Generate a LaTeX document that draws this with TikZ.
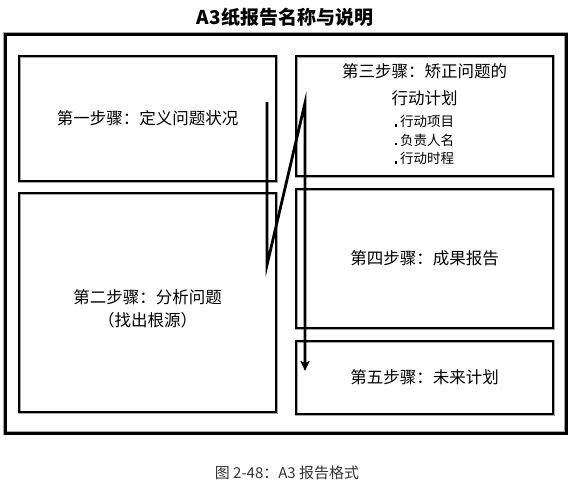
\documentclass[tikz,border=0pt]{standalone}
\usepackage{fontspec}
\setmainfont{Noto Sans CJK SC}
\usetikzlibrary{arrows.meta,positioning}

\tikzset{
  stepbox/.style={draw=black, line width=1.2pt, inner sep=0pt,
    preaction={draw=black!35, line width=3pt},
    minimum width=257pt, font=\fontsize{16.5}{18}\selectfont, align=center},
  frame/.style={draw=black, line width=3pt, preaction={draw=black!35, line width=4.8pt}},
  flow/.style={line width=2.8pt, -{Stealth[length=10pt,width=9pt,inset=2pt]}},
  item/.style={font=\fontsize{13.5}{18.5}\selectfont}
}

\begin{document}
\begin{tikzpicture}[x=1pt,y=-1pt]
  \useasboundingbox (0,0) rectangle (570,483);
  % title and outer frame
  \node[font=\fontsize{19}{22}\selectfont\bfseries] (title) at (285,17) {A3纸报告名称与说明};
  \draw[frame] (5,34) rectangle (566,433);
  % the five steps
  \node[stepbox, minimum height=125pt] (box1) at (147.5,118.5) {第一步骤：定义问题状况};
  \node[stepbox, minimum height=219pt] (box2) at (147.5,302.5) {};
  \node[stepbox, minimum height=120pt] (box3) at (424.5,116) {};
  \node[stepbox, minimum height=139pt] (box4) at (424.5,258.5) {第四步骤：成果报告};
  \node[stepbox, minimum height=73pt] (box5) at (424.5,377.5) {第五步骤：未来计划};
  \node[font=\fontsize{16.5}{23}\selectfont, align=center] (analyse) at (147.5,308.5) {第二步骤：分析问题\\（找出根源）};
  \node[font=\fontsize{16.5}{27}\selectfont, align=center, below=5pt of box3.north] (plan) {第三步骤：矫正问题的\\行动计划};
  \node[item, align=left, below=2pt of plan] (items)
    {\rule{2.4pt}{2.4pt}\ 行动项目\\\rule{2.4pt}{2.4pt}\ 负责人名\\\rule{2.4pt}{2.4pt}\ 行动时程};
  % the zigzag
  \coordinate (z1) at (267,102);
  \coordinate (z2) at (267,265);
  \coordinate (z3) at (305,103);
  \coordinate (z4) at (305,371);
  \draw[flow] (z1) -- (z2) -- (z3) -- (z4);
  % caption
  \node[text=black!80, font=\fontsize{15}{17}\selectfont] (caption) at (287,473) {图 2-48：A3 报告格式};
\end{tikzpicture}
\end{document}
